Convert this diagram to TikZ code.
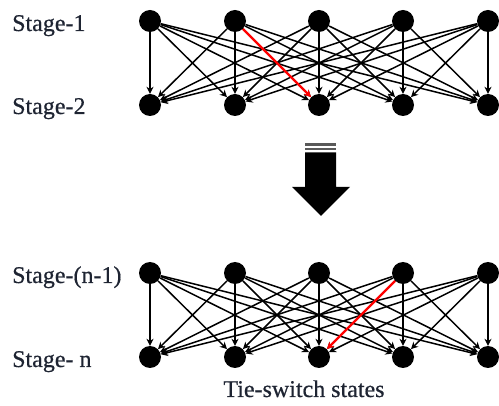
\documentclass[tikz,border=0pt]{standalone}
\usepackage{fontspec}
\setmainfont{Liberation Serif}
\usetikzlibrary{arrows.meta}
\definecolor{ink}{RGB}{30,36,50}
\begin{document}
\begin{tikzpicture}[x=1pt,y=-1pt,
  dot/.style={circle,fill=black,inner sep=0pt,minimum size=22pt},
  link/.style={line width=1.5pt,-{Stealth[length=7pt,width=7pt]}},
  hot/.style={link,red,line width=2.2pt},
  lbl/.style={anchor=base west,inner sep=0pt,text=ink,font=\fontsize{24}{28}\selectfont\addfontfeature{FakeBold=0.6}}]
\useasboundingbox (0,0) rectangle (499,406);
\foreach \i/\x in {1/150,2/235,3/319,4/403,5/488}{
  \node[dot] (a\i) at (\x,21) {};
  \node[dot] (b\i) at (\x,105) {};
  \node[dot] (c\i) at (\x,273) {};
  \node[dot] (d\i) at (\x,357) {};
}
\foreach \i in {1,...,5}{
  \foreach \j in {1,...,5}{
    \draw[link] (a\i) -- (b\j);
    \draw[link] (c\i) -- (d\j);
  }
}
\draw[hot] (a2) -- (b3);
\draw[hot] (c4) -- (d3);
\node[lbl] (l1) at (12,31) {Stage-1};
\node[lbl] (l2) at (12,114) {Stage-2};
\node[lbl] (l3) at (12,283) {Stage-(n-1)};
\node[lbl] (l4) at (12,367) {Stage- n};
\node[lbl,anchor=base] (cap) at (304,397) {Tie-switch states};
% big arrow
\fill[black!65] (305,143) rectangle (336,146);
\fill[black!65] (305,148) rectangle (336,150.5);
\fill (305,152.5) -- (336,152.5) -- (336,187) -- (350,187) -- (321,216) -- (292,187) -- (305,187) -- cycle;
\end{tikzpicture}
\end{document}
